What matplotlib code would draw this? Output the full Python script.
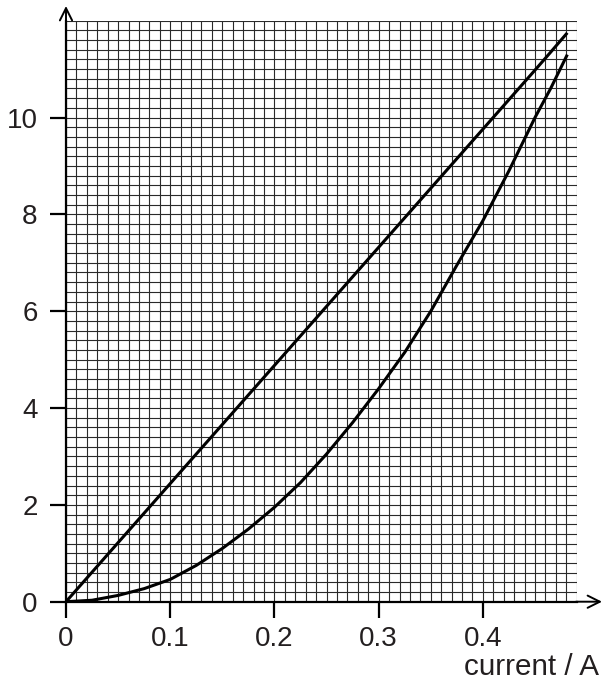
import matplotlib
matplotlib.use("Agg")
import matplotlib.pyplot as plt
import numpy as np

plt.rcParams['font.family'] = ['Liberation Sans', 'DejaVu Sans']

# Data
current = [0, 0.025, 0.05, 0.075, 0.1, 0.125, 0.15, 0.175, 0.2, 0.225, 0.25,
           0.275, 0.3, 0.325, 0.35, 0.375, 0.4, 0.425, 0.45, 0.465, 0.481]
upper = [0, 0.61, 1.22, 1.83, 2.44, 3.05, 3.66, 4.27, 4.88, 5.49, 6.1,
         6.71, 7.32, 7.93, 8.54, 9.15, 9.76, 10.37, 10.98, 11.35, 11.75]
lower = [0, 0.03, 0.13, 0.27, 0.46, 0.75, 1.1, 1.5, 1.95, 2.46, 3.05,
         3.7, 4.4, 5.15, 6.0, 6.95, 7.87, 8.9, 10.0, 10.6, 11.3]

x_ticks = [0, 0.1, 0.2, 0.3, 0.4]
x_tick_labels = ['0', '0.1', '0.2', '0.3', '0.4']
y_ticks = [0, 2, 4, 6, 8, 10]
y_tick_labels = ['0', '2', '4', '6', '8', '10']
x_label = 'current / A'

ink = '#231f20'
fig = plt.figure(figsize=(6.08, 6.84), dpi=100)
ax = fig.add_axes([66/608, 1-601.7/684, (576.7-66)/608, (601.7-20.7)/684])
ax.set_xlim(0, 0.49)
ax.set_ylim(0, 12)

# graph paper grid
for xv in np.arange(0, 0.4901, 0.01):
    ax.axvline(xv, color='#2a2a2a', lw=0.8, zorder=1)
for yv in np.arange(0, 12.001, 0.2):
    ax.axhline(yv, color='#2a2a2a', lw=0.8, zorder=1)

ax.plot(current, upper, color='black', lw=2.2, zorder=3, solid_capstyle='butt')
ax.plot(current, lower, color='black', lw=2.2, zorder=3, solid_capstyle='butt')

for s in ['top', 'right']:
    ax.spines[s].set_visible(False)
for s in ['left', 'bottom']:
    ax.spines[s].set_linewidth(1.6)
    ax.spines[s].set_color('black')

ax.set_xticks(x_ticks)
ax.set_xticklabels(x_tick_labels)
ax.set_yticks(y_ticks)
ax.set_yticklabels(y_tick_labels)
ax.tick_params(axis='both', direction='out', length=11.5, width=1.6,
               labelsize=20, colors='black', labelcolor=ink)
ax.tick_params(axis='x', pad=6)
ax.tick_params(axis='y', pad=9)

# axis arrows
ax.annotate('', xy=(66/608, 1-6/684), xycoords='figure fraction',
            xytext=(66/608, 1-20.7/684), textcoords='figure fraction',
            arrowprops=dict(arrowstyle='->', lw=1.4, color='black',
                            mutation_scale=22, shrinkA=0, shrinkB=0))
ax.annotate('', xy=(602/608, 1-601.7/684), xycoords='figure fraction',
            xytext=(576/608, 1-601.7/684), textcoords='figure fraction',
            arrowprops=dict(arrowstyle='->', lw=1.4, color='black',
                            mutation_scale=22, shrinkA=0, shrinkB=0))

fig.text(599/608, 1-667/684, x_label, ha='right', va='center',
         fontsize=21.3, color=ink)

fig.savefig('out.png', dpi=100)
